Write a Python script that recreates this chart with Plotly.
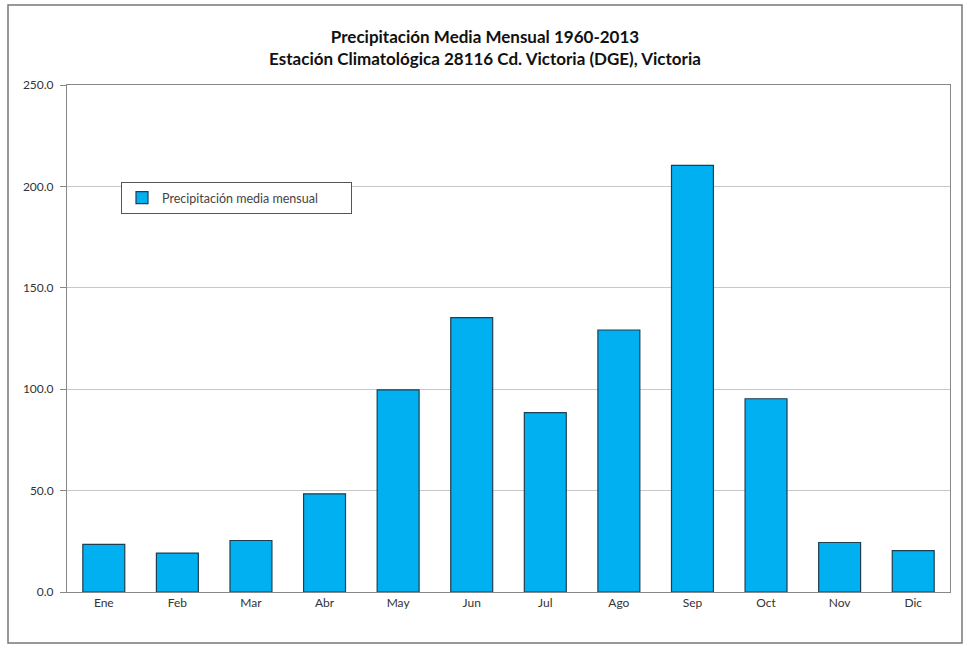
import plotly.graph_objects as go

meses = ["Ene", "Feb", "Mar", "Abr", "May", "Jun", "Jul", "Ago", "Sep", "Oct", "Nov", "Dic"]
precipitacion = [23.5, 19.2, 25.4, 48.4, 99.7, 135.3, 88.4, 129.2, 210.4, 95.3, 24.4, 20.4]
y_ticks = [0, 50, 100, 150, 200, 250]

W, H = 965, 645
L, R, T, B = 67, 15, 85, 53
pw, ph = W - L - R, H - T - B

def px_x(p):
    return (p - L) / pw

def px_y(p):
    return (H - B - p) / ph

fig = go.Figure()
fig.add_trace(go.Bar(
    x=meses, y=precipitacion,
    name="Precipitación media mensual",
    marker=dict(color="#00B0F0", line=dict(color="#1F3F50", width=1.2)),
))

fig.update_layout(
    width=W, height=H,
    margin=dict(l=L, r=R, t=T, b=B),
    paper_bgcolor="white", plot_bgcolor="white",
    font=dict(family="Lato, Open Sans, sans-serif", color="#333333", size=11),
    title=dict(
        text="<b>Precipitación Media Mensual 1960-2013<br>Estación Climatológica 28116 Cd. Victoria (DGE), Victoria</b>",
        x=485 / W, xanchor="center", xref="container", y=1 - 43 / H, yanchor="middle",
        font=dict(size=17, color="#111111"),
    ),
    bargap=0.43,
    showlegend=True,
    legend=dict(
        x=px_x(121), y=px_y(182), xanchor="left", yanchor="top",
        orientation="h", entrywidth=184,
        bordercolor="#555555", borderwidth=1, bgcolor="white",
        font=dict(size=12.5, color="#444444"),
        itemwidth=30,
    ),
    xaxis=dict(
        showgrid=False, showline=True, linecolor="#888888", linewidth=1,
        ticks="", tickfont=dict(size=12, color="#333333"),
        mirror=True,
    ),
    yaxis=dict(
        range=[0, 250], tickvals=y_ticks, tickformat=".1f",
        showgrid=True, gridcolor="#C8C8C8", gridwidth=1,
        showline=True, linecolor="#888888", linewidth=1, mirror=True,
        ticks="outside", ticklen=6, tickcolor="#888888",
        ticklabelstandoff=4,
        tickfont=dict(size=12, color="#333333"), zeroline=False,
    ),
    shapes=[dict(
        type="rect", xref="paper", yref="paper",
        x0=px_x(8), x1=px_x(962), y0=px_y(643), y1=px_y(5),
        line=dict(color="#777777", width=1.5), fillcolor="rgba(0,0,0,0)",
        layer="below",
    )],
)

fig.write_html("out.html")
